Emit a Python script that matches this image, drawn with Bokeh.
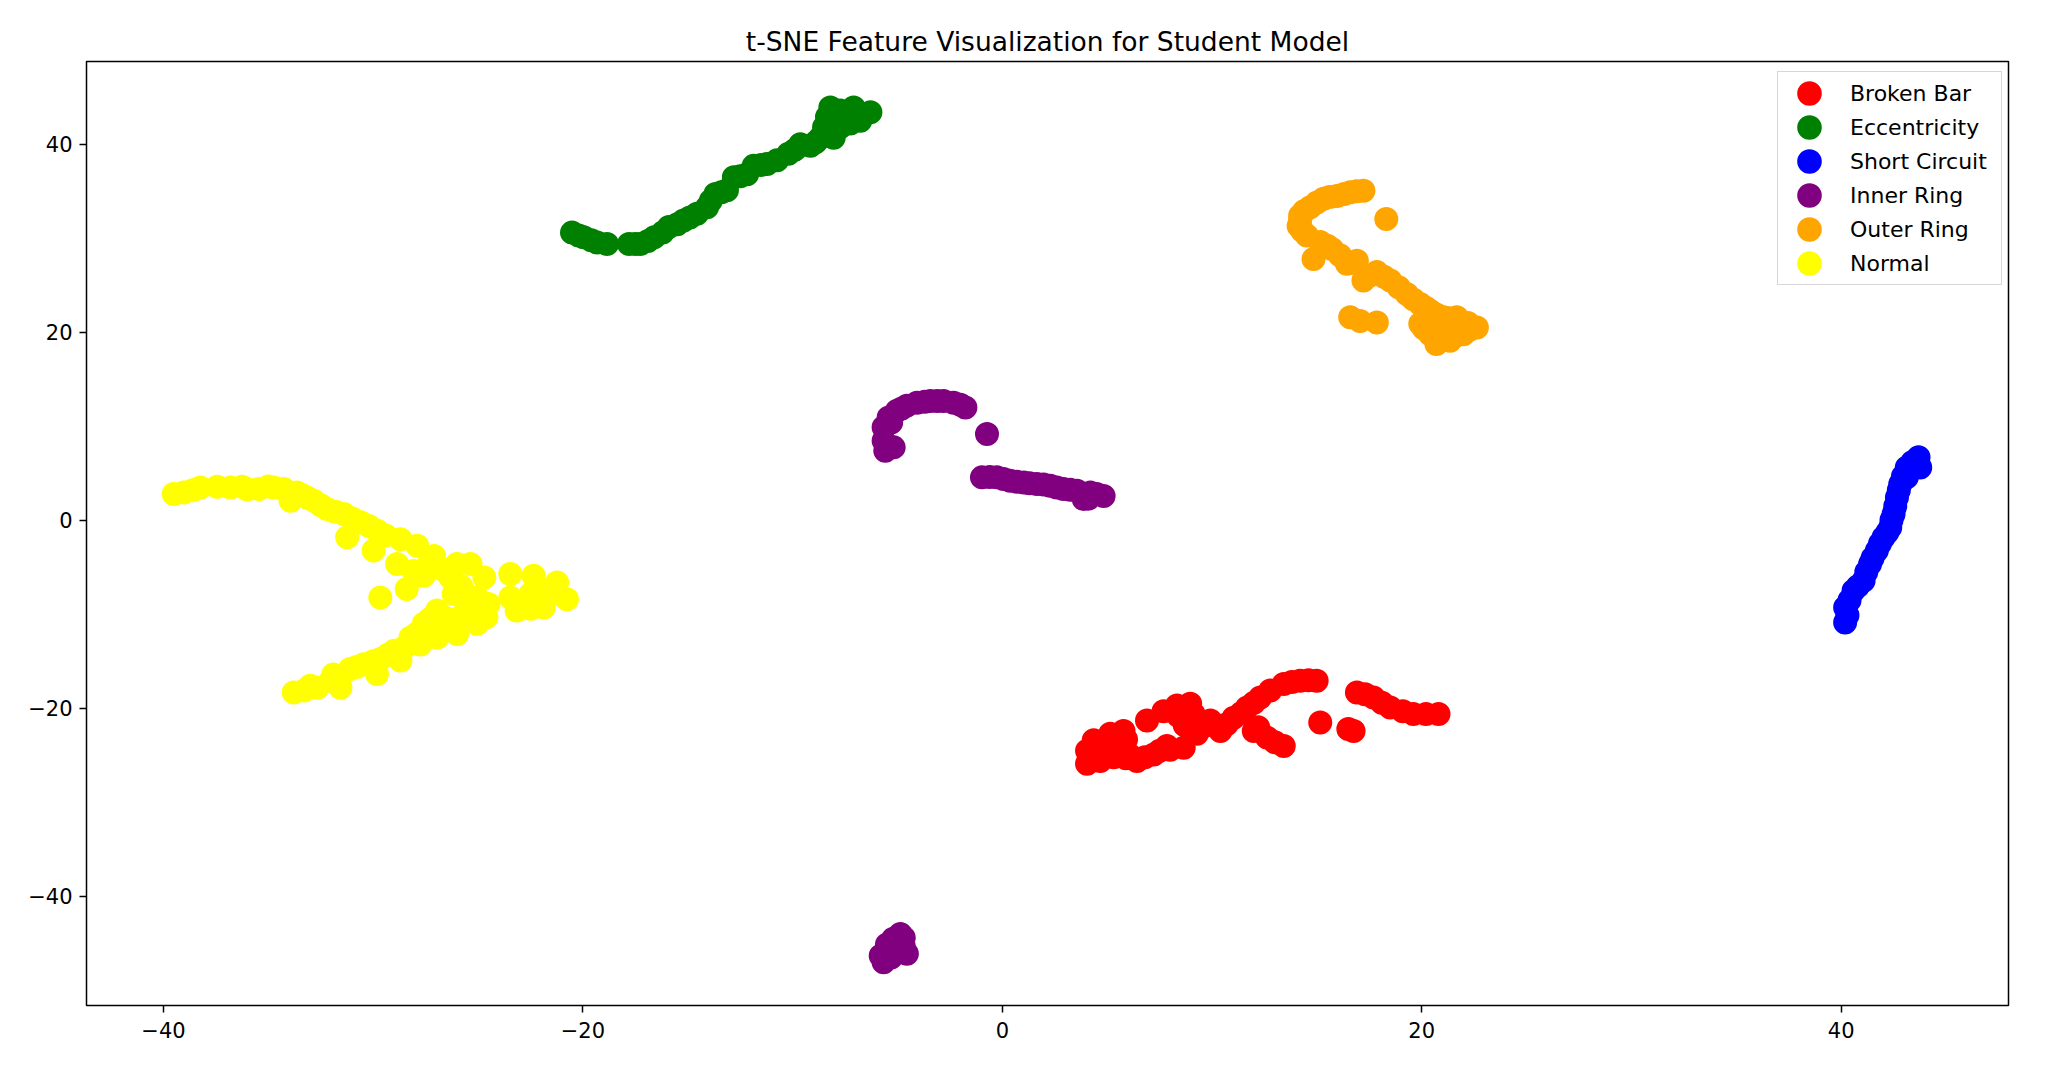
from bokeh.plotting import figure
from bokeh.models import FixedTicker, Legend, LegendItem, Range1d
from bokeh.embed import file_html
from bokeh.resources import INLINE

title_text = "t-SNE Feature Visualization for Student Model"
class_names = ["Broken Bar", "Eccentricity", "Short Circuit", "Inner Ring", "Outer Ring", "Normal"]
class_colors = ["red", "green", "blue", "purple", "orange", "yellow"]

broken_bar_x = [4.04, 4.04, 4.36, 4.67, 4.5, 5.15, 5.31, 5.0, 5.78, 5.9, 6.42, 6.9, 7.22, 7.69,
                7.85, 8.33, 8.65, 8.96, 9.12, 9.28, 9.92, 10.4, 11.03, 11.67, 12.3, 12.78, 13.42,
                14.2, 14.99, 11.99, 12.62, 13.42, 15.16, 16.75, 16.5, 16.91, 17.7, 18.5, 19.6, 20.8,
                4.2, 4.8, 5.5, 5.9, 6.1, 6.8, 7.5, 8.0, 8.4, 8.7, 9.6, 10.1, 10.7, 11.4, 12.0,
                12.2, 13.0, 13.8, 14.6, 17.3, 18.1, 19.1, 20.2]
broken_bar_y = [-25.9, -24.5, -23.4, -25.6, -24.6, -22.7, -25.2, -24.0, -22.4, -25.3, -25.6, -21.3,
                -24.9, -20.3, -24.0, -19.7, -24.2, -19.5, -20.6, -22.7, -21.3, -22.4, -21.0, -19.9,
                -18.84, -18.1, -17.4, -17.06, -17.06, -22.4, -23.1, -24.0, -21.5, -22.4, -22.2,
                -18.3, -18.84, -19.9, -20.6, -20.6,
                -25.0, -24.2, -24.0, -23.3, -25.0, -25.2, -24.5, -24.4, -20.8, -21.8, -21.9, -21.8,
                -21.7, -20.5, -19.4, -22.0, -23.6, -17.2, -17.0, -18.5, -19.4, -20.3, -20.6]

eccentricity_x = [-20.52, -19.96, -19.32, -18.85, -17.8, -17.26, -16.6, -15.9, -15.2, -14.56, -14.08,
                  -13.68, -13.13, -12.8, -12.17, -11.86, -11.22, -10.74, -10.2, -9.63, -9.15, -8.68,
                  -8.36, -8.2, -7.73, -7.09, -8.04, -7.73, -7.25, -6.77, -6.29, -7.73,
                  -20.2, -19.6, -17.5, -16.9, -16.2, -15.5, -14.9, -13.9, -13.4, -12.5, -11.5,
                  -9.9, -8.9, -8.5]
eccentricity_y = [30.6, 30.1, 29.56, 29.4, 29.4, 29.4, 30.1, 31.2, 31.9, 32.6, 33.3,
                  34.7, 35.1, 36.5, 36.8, 37.7, 37.9, 38.3, 39.0, 40.0, 39.85, 40.7,
                  42.9, 43.9, 43.6, 43.9, 40.7, 41.8, 42.2, 42.5, 43.4, 42.9,
                  30.3, 29.8, 29.4, 29.7, 30.6, 31.5, 32.2, 34.0, 34.9, 36.6, 37.8,
                  39.4, 40.2, 41.8]

short_circuit_x = [40.19, 40.19, 40.4, 40.59, 41.07, 41.2, 41.38, 41.7, 42.02, 42.34, 42.5, 42.66,
                   42.82, 43.13, 43.69, 43.77, 43.13,
                   40.3, 40.8, 41.5, 41.85, 42.2, 42.4, 42.58, 42.75, 42.95, 43.4, 43.6]
short_circuit_y = [-10.86, -9.27, -8.5, -7.49, -6.43, -5.5, -4.65, -3.23, -1.82, -0.76, 0.67, 2.44,
                   3.86, 5.63, 6.7, 5.63, 4.57,
                   -10.1, -7.0, -4.0, -2.5, -1.3, 0.0, 1.5, 3.2, 4.7, 6.2, 5.9]

inner_ring_x = [-5.58, -5.66, -5.66, -5.42, -5.02, -4.55, -4.07, -3.43, -2.8, -2.32, -1.76, -5.18,
                -0.73, -0.97, -0.26, 0.38, 1.02, 1.65, 2.29, 2.92, 3.56, 4.2, 4.83, 3.88,
                -5.66, -4.7, -5.18, -4.55, -5.5, -4.86,
                -5.5, -5.3, -4.8, -3.7, -3.1, -2.0, -0.6, 0.06, 0.7, 1.3, 1.97, 2.6, 3.24, 4.5, 4.1,
                -5.0, -5.3, -4.7, -5.8, -5.2]
inner_ring_y = [7.4, 8.47, 9.9, 10.95, 11.66, 12.2, 12.5, 12.7, 12.7, 12.5, 12.0, 7.76,
                9.18, 4.57, 4.57, 4.2, 4.03, 3.86, 3.68, 3.33, 3.15, 2.97, 2.6, 2.26,
                -47.0, -44.4, -45.8, -46.1, -45.1, -44.0,
                8.0, 10.4, 11.9, 12.6, 12.7, 12.3, 4.6, 4.4, 4.1, 3.95, 3.8, 3.5, 3.25, 2.8, 2.3,
                -45.0, -46.5, -45.3, -46.3, -44.5]

outer_ring_x = [17.22, 16.59, 15.96, 15.32, 14.68, 14.2, 14.13, 18.31, 14.52, 14.84, 15.16, 15.72,
                16.43, 16.91, 17.22, 17.86, 18.5, 19.29, 19.93, 20.4, 21.04, 21.67, 22.63, 20.4,
                20.7, 21.35, 21.99, 19.93, 16.59, 17.06, 17.86,
                16.9, 16.3, 15.6, 15.0, 14.4, 14.2, 14.3, 15.5, 16.1, 16.7, 17.5, 18.2, 18.9,
                19.6, 20.2, 20.7, 21.3, 22.2, 20.1, 21.0, 21.6, 20.9, 22.3]
outer_ring_y = [35.06, 34.9, 34.5, 34.2, 33.3, 32.4, 31.3, 32.05, 30.3, 27.8, 29.6, 28.86,
                27.3, 27.6, 25.5, 26.4, 25.5, 24.07, 23.0, 22.3, 21.6, 21.6, 20.5, 19.8,
                18.75, 19.1, 19.8, 20.9, 21.6, 21.2, 21.05,
                35.0, 34.7, 34.4, 33.8, 32.9, 31.9, 30.8, 29.2, 28.2, 27.4, 26.0, 25.9, 24.8,
                23.5, 22.6, 21.9, 21.5, 21.0, 20.4, 20.0, 19.6, 19.3, 20.3]

normal_x = [-39.51, -39.03, -38.24, -37.44, -36.8, -36.25, -35.45, -34.74, -34.26, -33.63, -33.15,
            -32.83, -33.94, -32.2, -31.4, -30.6, -29.8, -31.24, -29.98, -28.7, -27.9, -27.1,
            -28.86, -28.07, -27.59, -28.4, -29.66, -26.0, -25.36, -26.32, -24.7, -26.16, -25.05,
            -24.5, -24.6, -25.05, -23.46, -22.35, -21.23, -20.76, -21.87, -22.5, -23.16, -23.46,
            -22.5, -21.39, -33.79, -33.3, -32.67, -32.04, -31.56, -31.1, -30.45, -29.82, -29.66,
            -29.0, -28.7, -28.22, -27.75, -27.59, -26.95, -26.95, -26.0, -25.68,
            -38.6, -36.0, -35.0, -33.4, -32.5, -31.8, -31.0, -30.2, -29.4,
            -27.3, -26.7, -25.8, -25.5, -26.4, -27.0,
            -33.0, -31.9, -30.8, -30.0, -29.3, -28.5, -27.9, -27.3,
            -22.9, -21.9, -22.0]
normal_y = [2.8, 2.97, 3.5, 3.57, 3.5, 3.57, 3.33, 3.5, 3.33, 2.97, 2.44,
            2.08, 2.08, 1.2, 0.67, -0.2, -1.1, -1.8, -3.2, -2.0, -2.7, -3.8,
            -4.65, -5.4, -5.9, -7.3, -8.2, -4.65, -4.65, -6.07, -6.07, -7.84, -8.2,
            -8.9, -10.3, -11.0, -5.7, -5.9, -6.6, -8.4, -9.27, -9.4, -9.6, -8.2,
            -7.84, -7.84, -18.3, -18.1, -17.8, -17.1, -17.8, -15.8, -15.3, -16.35, -14.75,
            -13.87, -14.9, -12.46, -13.2, -11.0, -9.6, -12.46, -12.1, -9.97,
            3.2, 3.3, 3.6, 2.7, 1.6, 0.9, 0.2, -0.6, -1.6,
            -4.4, -5.2, -7.0, -9.3, -10.5, -11.5,
            -17.6, -16.4, -15.6, -15.0, -14.3, -13.5, -12.0, -10.5,
            -8.8, -8.4, -7.3]

x_ticks = [-40, -20, 0, 20, 40]
y_ticks = [-40, -20, 0, 20, 40]

series_x = [broken_bar_x, eccentricity_x, short_circuit_x, inner_ring_x, outer_ring_x, normal_x]
series_y = [broken_bar_y, eccentricity_y, short_circuit_y, inner_ring_y, outer_ring_y, normal_y]

FONT = "DejaVu Sans"

p = figure(frame_width=1922, frame_height=944,
           x_range=Range1d(-43.67, 47.98), y_range=Range1d(-51.6, 48.8),
           output_backend="svg", toolbar_location=None, title=title_text,
           min_border_left=86, min_border_top=61, min_border_right=31, min_border_bottom=70)

p.background_fill_color = "white"
p.border_fill_color = "white"
p.outline_line_color = "black"
p.outline_line_width = 1.5
p.outline_line_alpha = 1.0
p.xgrid.visible = False
p.ygrid.visible = False

p.title.text_font = FONT
p.title.text_font_size = "26.5px"
p.title.text_font_style = "normal"
p.title.text_color = "black"
p.title.align = "center"
p.title.standoff = 10

p.xaxis.ticker = FixedTicker(ticks=x_ticks)
p.yaxis.ticker = FixedTicker(ticks=y_ticks)
p.xaxis.major_label_overrides = {t: str(t).replace("-", "\u2212") for t in x_ticks}
p.yaxis.major_label_overrides = {t: str(t).replace("-", "\u2212") for t in y_ticks}
for ax in (p.xaxis, p.yaxis):
    ax.axis_line_color = None
    ax.minor_tick_line_color = None
    ax.major_tick_in = 0
    ax.major_tick_out = 7
    ax.major_tick_line_width = 1.5
    ax.major_tick_line_color = "black"
    ax.major_label_text_font = FONT
    ax.major_label_text_font_size = "21px"
    ax.major_label_text_color = "black"
p.xaxis.major_label_standoff = 9
p.yaxis.major_label_standoff = 7

items = []
for name, col, xs, ys in zip(class_names, class_colors, series_x, series_y):
    r = p.scatter(xs, ys, marker="circle", size=13, line_width=11,
                  fill_color=col, line_color=col, fill_alpha=1.0, line_alpha=1.0)
    items.append(LegendItem(label=name, renderers=[r]))

legend = Legend(items=items)
legend.glyph_width = 62
legend.glyph_height = 34
legend.spacing = 0
legend.label_standoff = 10
legend.label_width = 151
legend.padding = dict(left=0, right=0, top=4, bottom=4)
legend.location = (1691, 720)
legend.label_text_font = FONT
legend.label_text_font_size = "22px"
legend.label_text_color = "black"
legend.border_line_color = "#cccccc"
legend.border_line_alpha = 0.8
legend.border_line_width = 1.5
legend.background_fill_color = "white"
legend.background_fill_alpha = 0.8
p.add_layout(legend)

open("out.html", "w").write(file_html(p, INLINE))
